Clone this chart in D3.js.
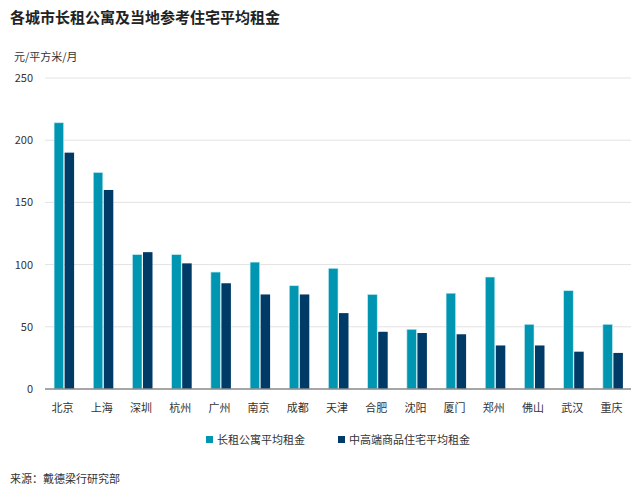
<!DOCTYPE html>
<html>
<head>
<meta charset="utf-8">
<script src="https://cdn.jsdelivr.net/npm/d3@7"></script>
<style>
  body { margin: 0; background: #fff; }
  svg text { font-family: "Noto Sans CJK SC", "Noto Sans", sans-serif; }
</style>
</head>
<body>
<svg id="chart" width="640" height="499"></svg>
<script>
// data
var cities = ['北京','上海','深圳','杭州','广州','南京','成都','天津','合肥','沈阳','厦门','郑州','佛山','武汉','重庆'];
var apartRent = [214, 174, 108, 108, 94, 102, 83, 97, 76, 48, 77, 90, 52, 79, 52];
var houseRent = [190, 160, 110, 101, 85, 76, 76, 61, 46, 45, 44, 35, 35, 30, 29];
var yTicks = [0, 50, 100, 150, 200, 250];
var seriesNames = ['长租公寓平均租金', '中高端商品住宅平均租金'];
var colors = ['#0096b2', '#003a66'];

var svg = d3.select('#chart');
// plot edges (window.top is reserved, so plotTop etc.)
var plotLeft = 43, plotRight = 631, plotTop = 78, plotBottom = 389;

var x = d3.scaleBand().domain(cities).range([plotLeft, plotRight]).paddingInner(0).paddingOuter(0);
var y = d3.scaleLinear().domain([0, 250]).range([plotBottom, plotTop]);

// title + unit
svg.append('text').attr('x', 10).attr('y', 23)
	.attr('font-size', 15).attr('font-weight', 'bold').attr('fill', '#222')
	.text('各城市长租公寓及当地参考住宅平均租金');
svg.append('text').attr('x', 14).attr('y', 61)
	.attr('font-size', 11).attr('fill', '#333').text('元/平方米/月');

// grid
svg.append('g').selectAll('line').data(yTicks.filter(function(d){ return d > 0; }))
	.enter().append('line')
	.attr('x1', plotLeft + 2).attr('x2', plotRight)
	.attr('y1', function(d){ return y(d); }).attr('y2', function(d){ return y(d); })
	.attr('stroke', '#e3e3e3').attr('stroke-width', 1);

// y tick labels
svg.append('g').selectAll('text').data(yTicks).enter().append('text')
	.attr('x', 33).attr('y', function(d){ return y(d) + 4; })
	.attr('text-anchor', 'end').attr('font-size', 11).attr('fill', '#333')
	.text(function(d){ return d; });

// bars (pair sits a touch right of the label centre)
var bw = 9.5, shift = 1.5;
var groups = svg.append('g').selectAll('g').data(cities).enter().append('g')
	.attr('transform', function(d){ return 'translate(' + (x(d) + x.bandwidth()/2 + shift) + ',0)'; });

groups.append('rect')
	.attr('x', -bw - 0.5).attr('width', bw)
	.attr('y', function(d, i){ return y(apartRent[i]); })
	.attr('height', function(d, i){ return plotBottom - y(apartRent[i]); })
	.attr('fill', colors[0]).attr('stroke', '#bfeaf2').attr('stroke-width', 0.6);

groups.append('rect')
	.attr('x', 0.5).attr('width', bw)
	.attr('y', function(d, i){ return y(houseRent[i]); })
	.attr('height', function(d, i){ return plotBottom - y(houseRent[i]); })
	.attr('fill', colors[1]);

// baseline
svg.append('line').attr('x1', plotLeft + 2).attr('x2', plotRight)
	.attr('y1', plotBottom).attr('y2', plotBottom)
	.attr('stroke', '#888').attr('stroke-width', 1.5);

// category labels
svg.append('g').selectAll('text').data(cities).enter().append('text')
	.attr('x', function(d){ return x(d) + x.bandwidth()/2; })
	.attr('y', 412).attr('text-anchor', 'middle')
	.attr('font-size', 11).attr('fill', '#333')
	.text(function(d){ return d; });

// legend
var legendX = [206, 338];
seriesNames.forEach(function(name, i){
	svg.append('rect').attr('x', legendX[i]).attr('y', 436)
		.attr('width', 7).attr('height', 7).attr('fill', colors[i]);
	svg.append('text').attr('x', legendX[i] + 11).attr('y', 444)
		.attr('font-size', 11).attr('fill', '#333').text(name);
});

// source
svg.append('text').attr('x', 10).attr('y', 483)
	.attr('font-size', 11).attr('fill', '#333').text('来源：戴德梁行研究部');
</script>
</body>
</html>
